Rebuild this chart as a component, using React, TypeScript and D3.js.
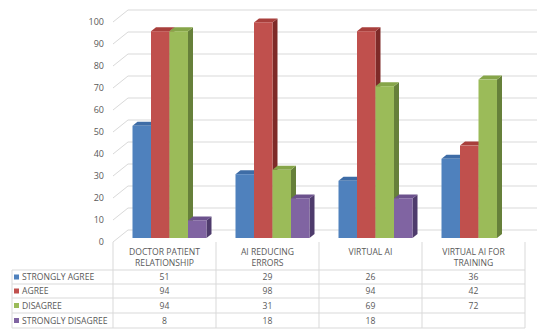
import React from "react";
import * as d3 from "d3";

const categories = [
  ["DOCTOR PATIENT", "RELATIONSHIP"],
  ["AI REDUCING", "ERRORS"],
  ["VIRTUAL AI"],
  ["VIRTUAL AI FOR", "TRAINING"],
];
const seriesNames = ["STRONGLY AGREE", "AGREE", "DISAGREE", "STRONGLY DISAGREE"];
const stronglyAgree = [51, 29, 26, 36];
const agree = [94, 98, 94, 42];
const disagree = [94, 31, 69, 72];
const stronglyDisagree: (number | null)[] = [8, 18, 18, null];
const yTicks = [0, 10, 20, 30, 40, 50, 60, 70, 80, 90, 100];

const series = [stronglyAgree, agree, disagree, stronglyDisagree];
const palette = [
  { front: "#4F81BD", top: "#3E6CA6", side: "#2B4C78" },
  { front: "#C0504D", top: "#A83F3C", side: "#7E2A28" },
  { front: "#9BBB59", top: "#86A549", side: "#66803A" },
  { front: "#8064A2", top: "#6C528D", side: "#4E3B6C" },
];

const W = 537;
const H = 331;
const FONT = "'Open Sans', 'DejaVu Sans', sans-serif";
const TEXT = "#595959";
const GRID = "#D9D9D9";
const TABLE_FS = 8.6;

// Depth projection of the 3D box
const DX = 15;
const DY = -12;

export default function App() {
  const x = d3
    .scaleBand<number>()
    .domain(categories.map((_, i) => i))
    .range([113, 525]);
  const yFront = d3.scaleLinear().domain([0, 100]).range([242, 22]);
  const proj = (px: number, v: number, d: number): [number, number] => [
    px + DX * d,
    yFront(v) + DY * d,
  ];

  const inner = d3
    .scaleBand<number>()
    .domain(series.map((_, i) => i))
    .range([0, 74]);

  const dFront = 1 / 3;
  const dBack = 2 / 3;

  const bars: React.ReactNode[] = [];
  categories.forEach((_, ci) => {
    const groupStart = (x(ci) as number) + x.bandwidth() / 2 - 37;
    series.forEach((vals, si) => {
      const v = vals[ci];
      if (v == null) return;
      const x0 = groupStart + (inner(si) as number);
      const x1 = x0 + inner.bandwidth();
      const [fx0, fyTop] = proj(x0, v, dFront);
      const [fx1, fyBot] = proj(x1, 0, dFront);
      const [bx0, byTop] = proj(x0, v, dBack);
      const [bx1, byBot] = proj(x1, 0, dBack);
      const c = palette[si];
      const pt = (p: [number, number][]) => p.map((q) => q.join(",")).join(" ");
      bars.push(
        <g key={`${ci}-${si}`}>
          <polygon
            points={pt([
              [fx1, fyTop],
              [bx1, byTop],
              [bx1, byBot],
              [fx1, fyBot],
            ])}
            fill={c.side}
          />
          <polygon
            points={pt([
              [fx0, fyTop],
              [bx0, byTop],
              [bx1, byTop],
              [fx1, fyTop],
            ])}
            fill={c.top}
          />
          <rect x={fx0} y={fyTop} width={fx1 - fx0} height={fyBot - fyTop} fill={c.front} />
        </g>
      );
    });
  });

  const left = 113;

  // table geometry
  const tableLeft = 12;
  const tableRight = 525;
  const headTop = 242;
  const rowLines = [270, 284, 298, 313, 328];

  return (
    <div style={{ position: "absolute", left: 0, top: 0, width: W, height: H, background: "#fff" }}>
      <svg width={W} height={H} style={{ display: "block" }} fontFamily={FONT}>
        <rect width={W} height={H} fill="#fff" />
        {/* walls: side-wall diagonals and back-wall gridlines */}
        {yTicks.map((t) => {
          const [x0, y0] = proj(left, t, 0);
          const [x1, y1] = proj(left, t, 1);
          return (
            <g key={t}>
              <line x1={x0} y1={y0} x2={x1} y2={y1} stroke={GRID} strokeWidth={1} />
              <line x1={x1} y1={y1} x2={W} y2={y1} stroke={GRID} strokeWidth={1} />
              <text
                x={104}
                y={y0}
                dy="0.35em"
                textAnchor="end"
                fontSize={9}
                fill={TEXT}
              >
                {t}
              </text>
            </g>
          );
        })}
        {bars}
        {/* data table */}
        <g stroke={GRID} strokeWidth={1}>
          {rowLines.map((ry) => (
            <line key={ry} x1={tableLeft} x2={tableRight} y1={ry} y2={ry} />
          ))}
          <line x1={tableLeft} x2={tableLeft} y1={rowLines[0]} y2={rowLines[rowLines.length - 1]} />
          {categories.map((_, ci) => (
            <line
              key={ci}
              x1={x(ci) as number}
              x2={x(ci) as number}
              y1={headTop}
              y2={rowLines[rowLines.length - 1]}
            />
          ))}
          <line x1={tableRight} x2={tableRight} y1={headTop} y2={rowLines[rowLines.length - 1]} />
        </g>
        {categories.map((lines, ci) => {
          const cx = (x(ci) as number) + x.bandwidth() / 2;
          return (
            <text key={ci} textAnchor="middle" fontSize={TABLE_FS} fill={TEXT}>
              {lines.map((l, li) => (
                <tspan key={li} x={cx} y={252 + li * 11} dy="0.35em">
                  {l}
                </tspan>
              ))}
            </text>
          );
        })}
        {seriesNames.map((name, si) => {
          const cy = (rowLines[si] + rowLines[si + 1]) / 2;
          return (
            <g key={name}>
              <rect x={14} y={cy - 2.5} width={5} height={5} fill={palette[si].front} />
              <text x={22} y={cy} dy="0.35em" fontSize={TABLE_FS} fill={TEXT}>
                {name}
              </text>
              {series[si].map((v, ci) =>
                v == null ? null : (
                  <text
                    key={ci}
                    x={(x(ci) as number) + x.bandwidth() / 2}
                    y={cy}
                    dy="0.35em"
                    textAnchor="middle"
                    fontSize={TABLE_FS}
                    fill={TEXT}
                  >
                    {v}
                  </text>
                )
              )}
            </g>
          );
        })}
      </svg>
    </div>
  );
}
